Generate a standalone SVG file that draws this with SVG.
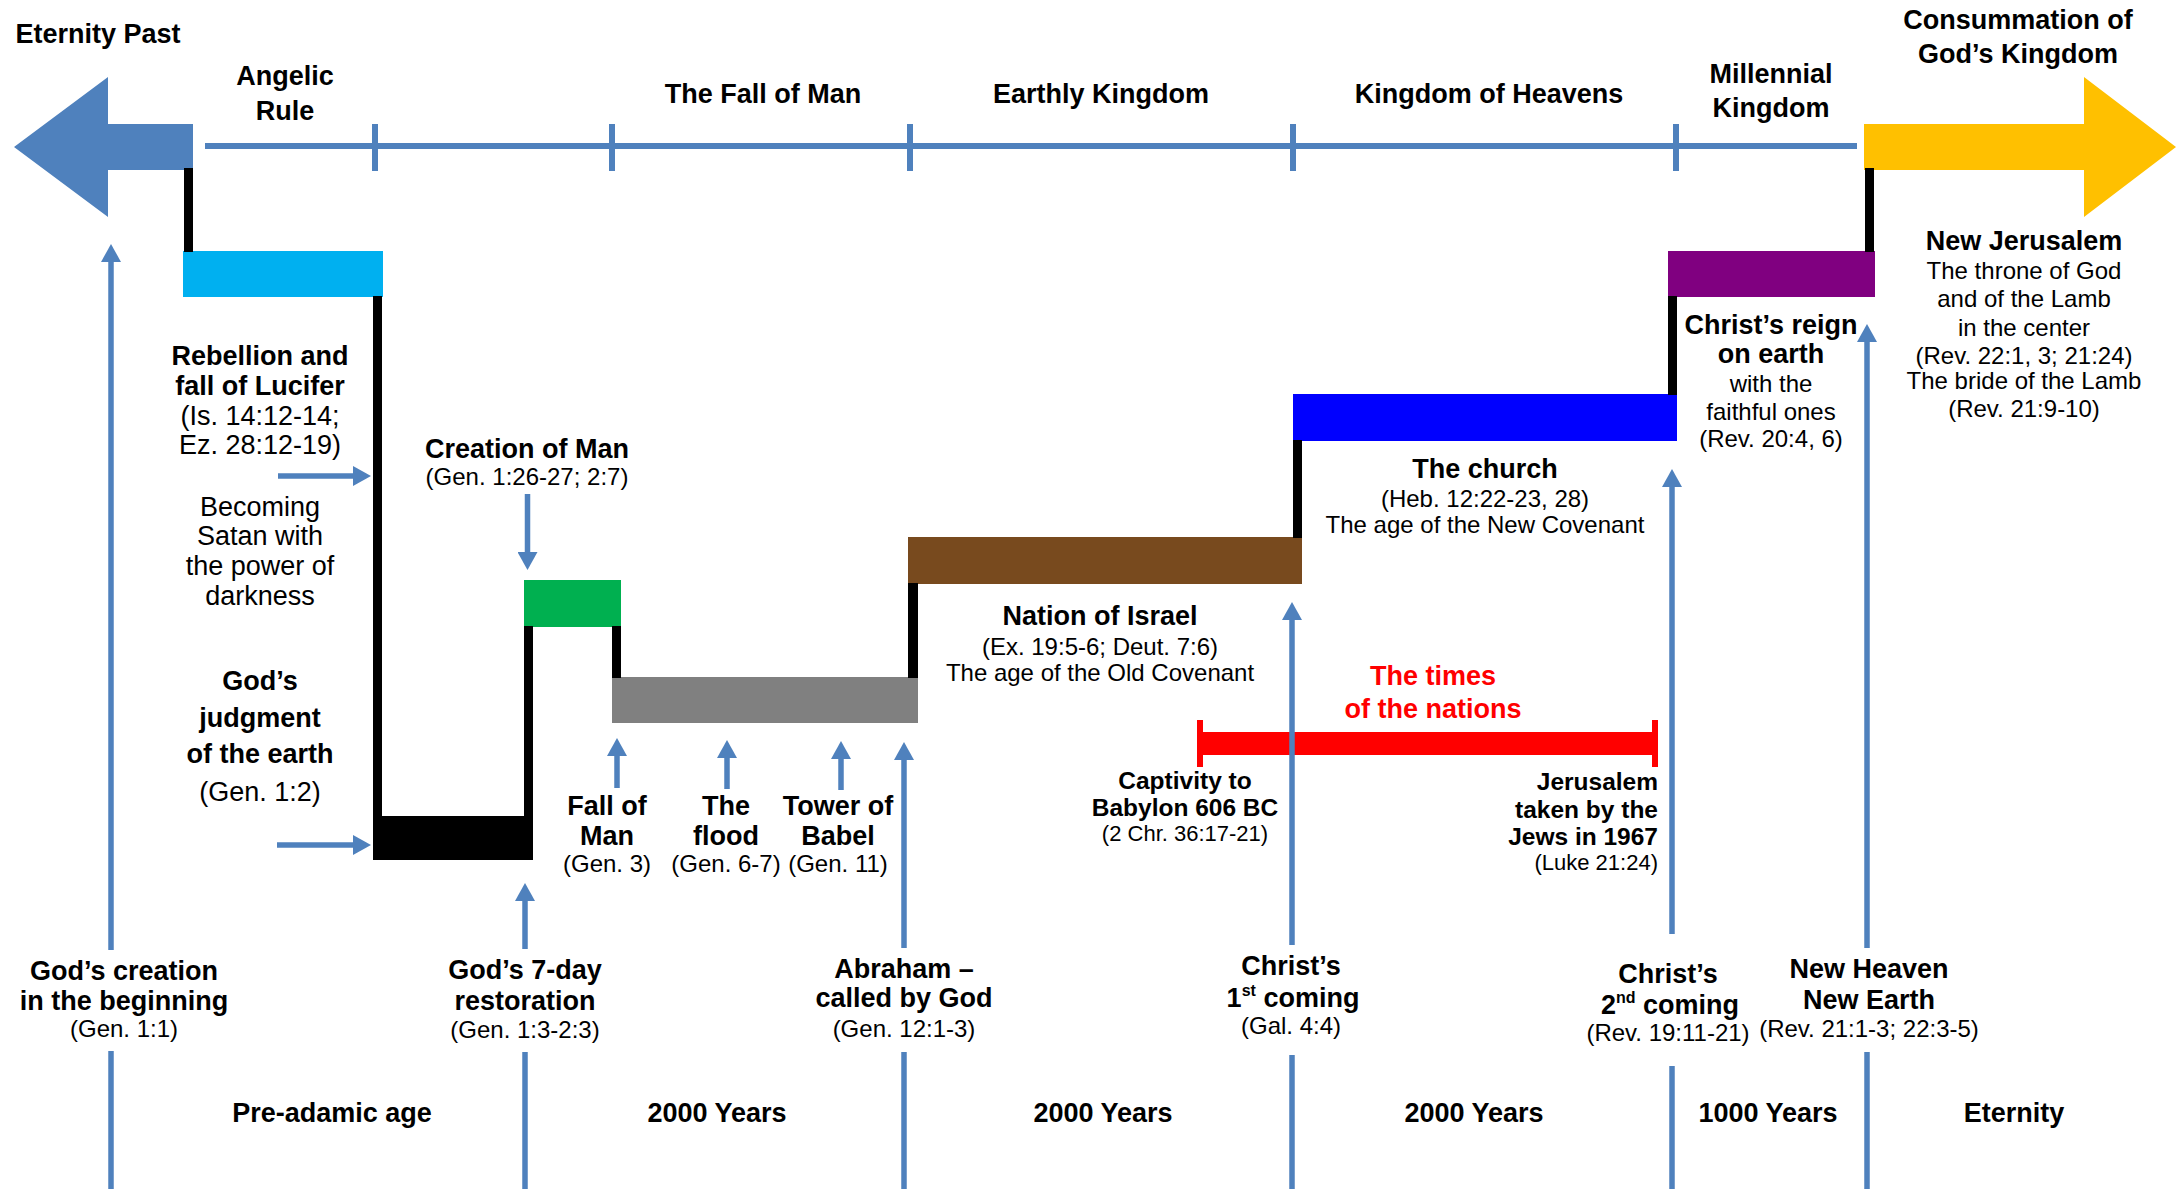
<svg xmlns="http://www.w3.org/2000/svg" width="2176" height="1189" viewBox="0 0 2176 1189">
<defs>
<marker id="ah" viewBox="0 0 18 20" markerWidth="18" markerHeight="20" refX="1" refY="10" orient="auto" markerUnits="userSpaceOnUse">
<path d="M0,0 L18,10 L0,20 z" fill="#4F81BD"/>
</marker>
<style>
text{font-family:"Liberation Sans",Arial,sans-serif;text-anchor:middle;fill:#000}
.b{font-weight:bold;font-size:27px}
.r{font-size:24px}
.r27{font-size:27px}
.bs{font-weight:bold;font-size:24.5px}
.rs{font-size:22px}
.red{fill:#FF0000}
.tl{stroke:#4F81BD;stroke-width:6;fill:none}
.ar{stroke:#4F81BD;stroke-width:5.5;fill:none}
.arm{stroke:#4F81BD;stroke-width:5.5;fill:none;marker-end:url(#ah)}
.blk{fill:#000}
</style>
</defs>
<rect width="2176" height="1189" fill="#fff"/>

<g id="timeline">
<line class="tl" x1="205" y1="146" x2="1857" y2="146"/>
<line class="tl" x1="375" y1="124" x2="375" y2="171"/>
<line class="tl" x1="612" y1="124" x2="612" y2="171"/>
<line class="tl" x1="910" y1="124" x2="910" y2="171"/>
<line class="tl" x1="1293" y1="124" x2="1293" y2="171"/>
<line class="tl" x1="1676" y1="124" x2="1676" y2="171"/>
</g>

<g id="eternity-past">
<polygon points="14,147 108,77 108,124 193,124 193,170 108,170 108,217" fill="#4F81BD"/>
<text class="b" x="98" y="43">Eternity Past</text>
</g>

<g id="consummation">
<polygon points="1864,124 2084,124 2084,77 2176,147 2084,217 2084,170 1864,170" fill="#FFC000"/>
<text class="b" x="2018" y="29">Consummation of</text>
<text class="b" x="2018" y="63">God’s Kingdom</text>
</g>

<g id="era-labels">
<text class="b" x="285" y="85">Angelic</text>
<text class="b" x="285" y="120">Rule</text>
<text class="b" x="763" y="103">The Fall of Man</text>
<text class="b" x="1101" y="103">Earthly Kingdom</text>
<text class="b" x="1489" y="103">Kingdom of Heavens</text>
<text class="b" x="1771" y="83">Millennial</text>
<text class="b" x="1771" y="117">Kingdom</text>
</g>

<g id="angelic-rule-bar">
<rect x="183" y="251" width="200" height="46" fill="#00B0F0"/>
</g>

<g id="rebellion">
<text class="b" x="260" y="365">Rebellion and</text>
<text class="b" x="260" y="395">fall of Lucifer</text>
<text class="r27" x="260" y="425">(Is. 14:12-14;</text>
<text class="r27" x="260" y="454">Ez. 28:12-19)</text>
<text class="r27" x="260" y="516">Becoming</text>
<text class="r27" x="260" y="545">Satan with</text>
<text class="r27" x="260" y="575">the power of</text>
<text class="r27" x="260" y="605">darkness</text>
</g>

<g id="judgment">
<rect x="373" y="816" width="160" height="44" fill="#000"/>
<text class="b" x="260" y="690">God’s</text>
<text class="b" x="260" y="727">judgment</text>
<text class="b" x="260" y="763">of the earth</text>
<text class="r27" x="260" y="801">(Gen. 1:2)</text>
</g>

<g id="creation-of-man">
<rect x="524" y="580" width="97" height="47" fill="#00B050"/>
<text class="b" x="527" y="458">Creation of Man</text>
<text class="r" x="527" y="485">(Gen. 1:26-27; 2:7)</text>
</g>

<g id="fall-of-man-bar">
<rect x="612" y="677" width="306" height="46" fill="#808080"/>
</g>

<g id="fall-of-man">
<text class="b" x="607" y="815">Fall of</text>
<text class="b" x="607" y="845">Man</text>
<text class="r" x="607" y="872">(Gen. 3)</text>
</g>
<g id="the-flood">
<text class="b" x="726" y="815">The</text>
<text class="b" x="726" y="845">flood</text>
<text class="r" x="726" y="872">(Gen. 6-7)</text>
</g>
<g id="tower-of-babel">
<text class="b" x="838" y="815">Tower of</text>
<text class="b" x="838" y="845">Babel</text>
<text class="r" x="838" y="872">(Gen. 11)</text>
</g>

<g id="nation-of-israel">
<rect x="908" y="537" width="394" height="47" fill="#784A1E"/>
<text class="b" x="1100" y="625">Nation of Israel</text>
<text class="r" x="1100" y="655">(Ex. 19:5-6; Deut. 7:6)</text>
<text class="r" x="1100" y="681">The age of the Old Covenant</text>
</g>

<g id="the-church">
<rect x="1293" y="394" width="384" height="47" fill="#0000FF"/>
<text class="b" x="1485" y="478">The church</text>
<text class="r" x="1485" y="507">(Heb. 12:22-23, 28)</text>
<text class="r" x="1485" y="533">The age of the New Covenant</text>
</g>

<g id="christs-reign">
<rect x="1668" y="251" width="207" height="46" fill="#800080"/>
<text class="b" x="1771" y="334">Christ’s reign</text>
<text class="b" x="1771" y="363">on earth</text>
<text class="r" x="1771" y="392">with the</text>
<text class="r" x="1771" y="420">faithful ones</text>
<text class="r" x="1771" y="447">(Rev. 20:4, 6)</text>
</g>

<g id="new-jerusalem">
<text class="b" x="2024" y="250">New Jerusalem</text>
<text class="r" x="2024" y="279">The throne of God</text>
<text class="r" x="2024" y="307">and of the Lamb</text>
<text class="r" x="2024" y="336">in the center</text>
<text class="r" x="2024" y="364">(Rev. 22:1, 3; 21:24)</text>
<text class="r" x="2024" y="389">The bride of the Lamb</text>
<text class="r" x="2024" y="417">(Rev. 21:9-10)</text>
</g>

<g id="times-of-the-nations">
<rect x="1200" y="732" width="456" height="23" fill="#FF0000"/>
<rect x="1197" y="720" width="6" height="47" fill="#FF0000"/>
<rect x="1652" y="720" width="6" height="47" fill="#FF0000"/>
<text class="b red" x="1433" y="685">The times</text>
<text class="b red" x="1433" y="718">of the nations</text>
</g>

<g id="captivity">
<text class="bs" x="1185" y="789">Captivity to</text>
<text class="bs" x="1185" y="816">Babylon 606 BC</text>
<text class="rs" x="1185" y="841">(2 Chr. 36:17-21)</text>
</g>

<g id="jerusalem-1967">
<text class="bs" x="1658" y="790" style="text-anchor:end">Jerusalem</text>
<text class="bs" x="1658" y="818" style="text-anchor:end">taken by the</text>
<text class="bs" x="1658" y="845" style="text-anchor:end">Jews in 1967</text>
<text class="rs" x="1658" y="870" style="text-anchor:end">(Luke 21:24)</text>
</g>

<g id="gods-creation">
<text class="b" x="124" y="980">God’s creation</text>
<text class="b" x="124" y="1010">in the beginning</text>
<text class="r" x="124" y="1037">(Gen. 1:1)</text>
</g>
<g id="seven-day-restoration">
<text class="b" x="525" y="979">God’s 7-day</text>
<text class="b" x="525" y="1010">restoration</text>
<text class="r" x="525" y="1038">(Gen. 1:3-2:3)</text>
</g>
<g id="abraham">
<text class="b" x="904" y="978">Abraham –</text>
<text class="b" x="904" y="1007">called by God</text>
<text class="r" x="904" y="1037">(Gen. 12:1-3)</text>
</g>
<g id="first-coming">
<text class="b" x="1291" y="975">Christ’s</text>
<text class="b" x="1293" y="1007">1<tspan font-size="16" dy="-11">st</tspan><tspan dy="11"> coming</tspan></text>
<text class="r" x="1291" y="1034">(Gal. 4:4)</text>
</g>
<g id="second-coming">
<text class="b" x="1668" y="983">Christ’s</text>
<text class="b" x="1670" y="1014">2<tspan font-size="16" dy="-11">nd</tspan><tspan dy="11"> coming</tspan></text>
<text class="r" x="1668" y="1041">(Rev. 19:11-21)</text>
</g>
<g id="new-heaven-earth">
<text class="b" x="1869" y="978">New Heaven</text>
<text class="b" x="1869" y="1009">New Earth</text>
<text class="r" x="1869" y="1037">(Rev. 21:1-3; 22:3-5)</text>
</g>

<g id="durations">
<text class="b" x="332" y="1122">Pre-adamic age</text>
<text class="b" x="717" y="1122">2000 Years</text>
<text class="b" x="1103" y="1122">2000 Years</text>
<text class="b" x="1474" y="1122">2000 Years</text>
<text class="b" x="1768" y="1122">1000 Years</text>
<text class="b" x="2014" y="1122">Eternity</text>
</g>

<g id="connectors">
<rect class="blk" x="184" y="168" width="9" height="84"/>
<rect class="blk" x="373" y="296" width="9" height="521"/>
<rect class="blk" x="524" y="626" width="9" height="191"/>
<rect class="blk" x="612" y="626" width="9" height="52"/>
<rect class="blk" x="908" y="583" width="10" height="95"/>
<rect class="blk" x="1293" y="440" width="9" height="98"/>
<rect class="blk" x="1668" y="296" width="9" height="99"/>
<rect class="blk" x="1865" y="168" width="9" height="84"/>

<line class="arm" x1="278" y1="476" x2="354" y2="476"/>
<line class="arm" x1="277" y1="845" x2="354" y2="845"/>
<line class="arm" x1="527.5" y1="494" x2="527.5" y2="553"/>
<line class="arm" x1="617" y1="788" x2="617" y2="755"/>
<line class="arm" x1="727" y1="789" x2="727" y2="757"/>
<line class="arm" x1="841" y1="790" x2="841" y2="758"/>

<line class="arm" x1="111" y1="950" x2="111" y2="261"/>
<line class="ar" x1="111" y1="1051" x2="111" y2="1189"/>
<line class="arm" x1="525" y1="949" x2="525" y2="900"/>
<line class="ar" x1="525" y1="1052" x2="525" y2="1189"/>
<line class="arm" x1="904" y1="948" x2="904" y2="759"/>
<line class="ar" x1="904" y1="1052" x2="904" y2="1189"/>
<line class="arm" x1="1292" y1="945" x2="1292" y2="619"/>
<line class="ar" x1="1292" y1="1055" x2="1292" y2="1189"/>
<line class="arm" x1="1672" y1="934" x2="1672" y2="486"/>
<line class="ar" x1="1672" y1="1066" x2="1672" y2="1189"/>
<line class="arm" x1="1867" y1="948" x2="1867" y2="341"/>
<line class="ar" x1="1867" y1="1052" x2="1867" y2="1189"/>
</g>
</svg>
